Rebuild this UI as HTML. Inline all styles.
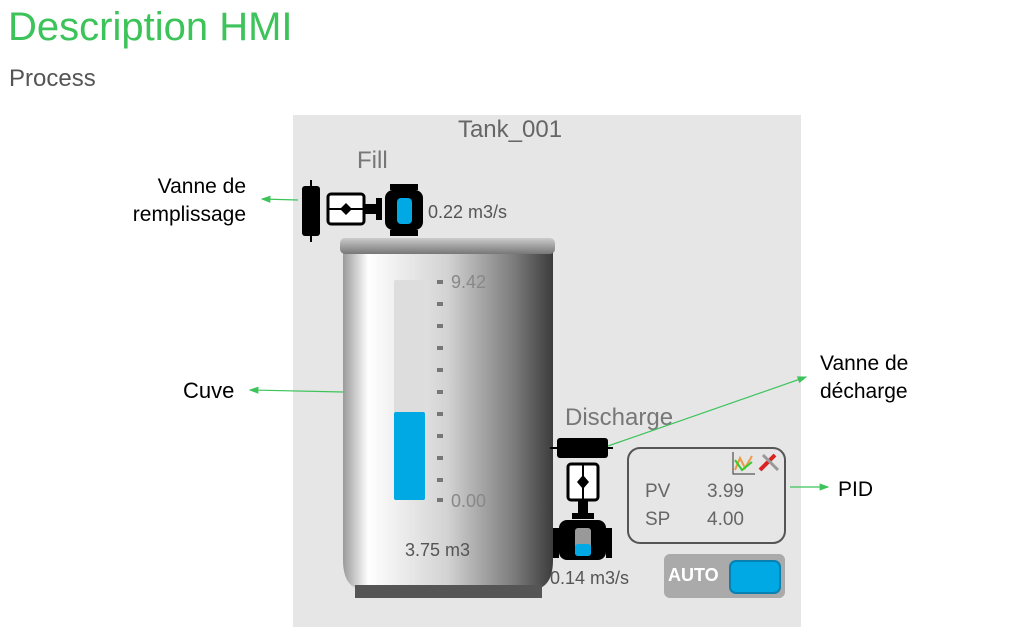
<!DOCTYPE html>
<html><head><meta charset="utf-8"><style>
body{margin:0;width:1012px;height:640px;background:#fff;font-family:"Liberation Sans",sans-serif;position:relative;overflow:hidden}
.a{position:absolute}
</style></head><body>
<div class="a" style="left:8px;top:5px;font-size:40px;color:#3cc35a">Description HMI</div>
<div class="a" style="left:9px;top:65px;font-size:24px;color:#555">Process</div>
<div class="a" style="left:293px;top:115px;width:508px;height:512px;background:#e6e6e6"></div>
<svg class="a" style="left:0;top:0" width="1012" height="640">
<defs>
<linearGradient id="g" x1="0" x2="1">
<stop offset="0" stop-color="#9a9a9a"/><stop offset="0.12" stop-color="#ffffff"/><stop offset="0.5" stop-color="#d2d2d2"/><stop offset="0.82" stop-color="#7a7a7a"/><stop offset="1" stop-color="#3c3c3c"/></linearGradient>
<linearGradient id="c" x1="0" y1="0" x2="0" y2="1"><stop offset="0" stop-color="#ccc"/><stop offset="1" stop-color="#777"/></linearGradient>
<marker id="m" markerWidth="8" markerHeight="8" refX="7" refY="4" orient="auto"><path d="M0,1 L8,4 L0,7 Z" fill="#3cc35a"/></marker>
</defs>
<text x="510" y="137" font-size="24" fill="#666" text-anchor="middle">Tank_001</text>
<text x="357" y="168" font-size="24" fill="#777">Fill</text>
<path d="M343,252 H553 V560 Q553,590 530,590 H366 Q343,590 343,560 Z" fill="url(#g)"/>
<rect x="340" y="238" width="215" height="16" rx="5" fill="url(#c)"/>
<rect x="355" y="585" width="187" height="13" fill="#555"/>
<rect x="394" y="280" width="31" height="220" rx="2" fill="#ddd"/>
<rect x="394" y="412" width="31" height="88" rx="2" fill="#00a8e4"/>
<g fill="#777">
<rect x="437" y="280" width="6" height="4"/><rect x="437" y="302" width="6" height="4"/><rect x="437" y="324" width="6" height="4"/><rect x="437" y="346" width="6" height="4"/><rect x="437" y="368" width="6" height="4"/><rect x="437" y="390" width="6" height="4"/><rect x="437" y="412" width="6" height="4"/><rect x="437" y="434" width="6" height="4"/><rect x="437" y="456" width="6" height="4"/><rect x="437" y="478" width="6" height="4"/><rect x="437" y="498" width="6" height="4"/>
</g>
<text x="451" y="288" font-size="18" fill="#888">9.42</text>
<text x="451" y="507" font-size="18" fill="#888">0.00</text>
<text x="405" y="556" font-size="18" fill="#555">3.75 m3</text>
<!-- fill valve -->
<line x1="311" y1="180" x2="311" y2="242" stroke="#000" stroke-width="2"/>
<rect x="302" y="186" width="18" height="50" rx="3" fill="#000"/>
<rect x="328" y="194" width="36" height="30" rx="3" fill="#fff" stroke="#000" stroke-width="3"/>
<line x1="328" y1="209" x2="364" y2="209" stroke="#000" stroke-width="2"/>
<path d="M340,209 L346,203 L352,209 L346,215 Z" fill="#000"/>
<rect x="364" y="204" width="12" height="10" fill="#000"/>
<rect x="376" y="198" width="6" height="22" fill="#000"/>
<rect x="390" y="184" width="28" height="6" fill="#000"/><rect x="390" y="230" width="28" height="6" fill="#000"/>
<rect x="385" y="190" width="38" height="40" rx="8" fill="#000"/>
<rect x="397" y="198" width="15" height="26" rx="4" fill="#00a8e4"/>
<text x="428" y="218" font-size="18" fill="#555">0.22 m3/s</text>
<!-- discharge -->
<text x="565" y="425" font-size="24" fill="#777">Discharge</text>
<line x1="550" y1="448" x2="613" y2="448" stroke="#000" stroke-width="2"/>
<rect x="557" y="438" width="51" height="20" rx="3" fill="#000"/>
<rect x="568" y="464" width="30" height="36" rx="3" fill="#fff" stroke="#000" stroke-width="3"/>
<line x1="583" y1="464" x2="583" y2="500" stroke="#000" stroke-width="2"/>
<path d="M583,475 L589,482 L583,489 L577,482 Z" fill="#000"/>
<rect x="578" y="500" width="10" height="16" fill="#000"/>
<rect x="572" y="513" width="22" height="6" fill="#000"/>
<rect x="553" y="528" width="6" height="30" fill="#000"/><rect x="606" y="528" width="6" height="30" fill="#000"/>
<rect x="559" y="520" width="47" height="40" rx="8" fill="#000"/>
<rect x="575" y="528" width="16" height="28" rx="3" fill="#999"/>
<rect x="575" y="544" width="16" height="12" rx="3" fill="#00a8e4"/>
<text x="550" y="584" font-size="18" fill="#555">0.14 m3/s</text>
<!-- PID -->
<rect x="628" y="448" width="157" height="95" rx="12" fill="none" stroke="#555" stroke-width="2"/>
<path d="M733,452 V474 H755" stroke="#333" fill="none"/>
<path d="M735,470 L740,458 L745,468 L752,456" stroke="#e94" stroke-width="2" fill="none"/>
<path d="M735,460 L742,470 L752,462" stroke="#3c3" stroke-width="2" fill="none"/>
<path d="M760,470 L775,455" stroke="#d22" stroke-width="4"/><path d="M763,455 L778,470" stroke="#999" stroke-width="3"/>
<text x="645" y="497" font-size="19" fill="#666">PV</text><text x="707" y="497" font-size="19" fill="#666">3.99</text>
<text x="645" y="525" font-size="19" fill="#666">SP</text><text x="707" y="525" font-size="19" fill="#666">4.00</text>
<rect x="664" y="554" width="121" height="44" rx="6" fill="#aaa"/>
<text x="668" y="581" font-size="18" font-weight="bold" fill="#fff">AUTO</text>
<rect x="730" y="561" width="50" height="32" rx="6" fill="#00a8e4" stroke="#0880b0" stroke-width="2"/>
<!-- annotations -->
<g stroke="#3cc35a" stroke-width="1.2" fill="none">
<line x1="298" y1="200" x2="262" y2="199" marker-end="url(#m)"/>
<line x1="343" y1="392" x2="250" y2="390" marker-end="url(#m)"/>
<line x1="608" y1="446" x2="806" y2="377" marker-end="url(#m)"/>
<line x1="790" y1="487" x2="828" y2="487" marker-end="url(#m)"/>
</g>
<g font-size="21" fill="#000">
<text x="246" y="193" text-anchor="end">Vanne de</text>
<text x="246" y="221" text-anchor="end">remplissage</text>
<text x="183" y="398" font-size="22">Cuve</text>
<text x="820" y="370">Vanne de</text>
<text x="820" y="398">décharge</text>
<text x="838" y="496">PID</text>
</g>
</svg>
</body></html>
